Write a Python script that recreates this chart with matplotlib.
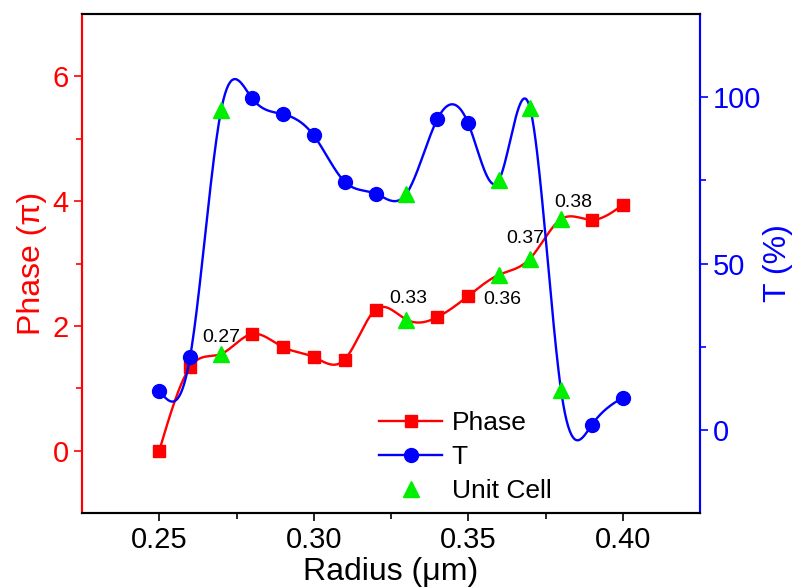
import matplotlib
matplotlib.use("Agg")
import matplotlib.pyplot as plt
import numpy as np
from matplotlib.ticker import MultipleLocator

plt.rcParams['font.family'] = ['Liberation Sans', 'DejaVu Sans']

# Data
radius = [0.25, 0.26, 0.27, 0.28, 0.29, 0.30, 0.31, 0.32,
          0.33, 0.34, 0.35, 0.36, 0.37, 0.38, 0.39, 0.40]
phase = [0.00, 1.34, 1.55, 1.87, 1.66, 1.50, 1.46, 2.26,
         2.10, 2.14, 2.48, 2.82, 3.08, 3.71, 3.70, 3.94]
trans = [11.8, 22.0, 96.0, 99.7, 94.9, 88.5, 74.6, 71.0,
         71.0, 93.4, 92.1, 75.2, 96.7, 12.1, 1.5, 9.7]
unit_cell = [0.27, 0.33, 0.36, 0.37, 0.38]
unit_labels = ["0.27", "0.33", "0.36", "0.37", "0.38"]
label_offsets = [(0, 12), (1.5, 15), (2, -18), (-3.5, 14.5), (8.5, 12)]


def natural_spline(x, y, n=40):
    # natural cubic spline, used only to draw the smooth connecting line
    x = np.asarray(x, float)
    y = np.asarray(y, float)
    k = len(x)
    h = np.diff(x)
    A = np.zeros((k, k))
    b = np.zeros(k)
    A[0, 0] = A[-1, -1] = 1
    for i in range(1, k - 1):
        A[i, i - 1] = h[i - 1]
        A[i, i] = 2 * (h[i - 1] + h[i])
        A[i, i + 1] = h[i]
        b[i] = 6 * ((y[i + 1] - y[i]) / h[i] - (y[i] - y[i - 1]) / h[i - 1])
    M = np.linalg.solve(A, b)
    xs, ys = [], []
    for i in range(k - 1):
        t = np.linspace(x[i], x[i + 1], n)
        a = x[i + 1] - t
        c = t - x[i]
        s = (M[i] * a ** 3 + M[i + 1] * c ** 3) / (6 * h[i]) \
            + (y[i] / h[i] - M[i] * h[i] / 6) * a \
            + (y[i + 1] / h[i] - M[i + 1] * h[i] / 6) * c
        xs.append(t)
        ys.append(s)
    return np.concatenate(xs), np.concatenate(ys)


is_cell = [r in unit_cell for r in radius]
r_plain = [r for r, c in zip(radius, is_cell) if not c]
p_plain = [p for p, c in zip(phase, is_cell) if not c]
t_plain = [t for t, c in zip(trans, is_cell) if not c]
p_cell = [p for p, c in zip(phase, is_cell) if c]
t_cell = [t for t, c in zip(trans, is_cell) if c]

fig = plt.figure(figsize=(7.97, 5.87), dpi=100)
ax = fig.add_axes([0.1029, 0.1261, 0.7754, 0.85])
ax2 = ax.twinx()

red = '#FF0000'
blue = '#0000FF'
green = '#00EE00'

sx, sy = natural_spline(radius, phase)
ax.plot(sx, sy, color=red, lw=1.7, zorder=2)
ax.plot(r_plain, p_plain, 's', color=red, ms=9, zorder=3)
ax.plot(unit_cell, p_cell, '^', color=green, ms=11, zorder=4)

tx, ty = natural_spline(radius, trans)
ax2.plot(tx, ty, color=blue, lw=1.7, zorder=2)
ax2.plot(r_plain, t_plain, 'o', color=blue, ms=10, zorder=3)
ax2.plot(unit_cell, t_cell, '^', color=green, ms=11, zorder=4)

for xc, yc, lab, off in zip(unit_cell, p_cell, unit_labels, label_offsets):
    ax.annotate(lab, (xc, yc), xytext=off, textcoords='offset points',
                ha='center', va='center', fontsize=14, color='black')

ax.set_xlim(0.225, 0.425)
ax.set_ylim(-1, 7)
ax2.set_ylim(-25, 125)

ax.set_xticks([0.25, 0.30, 0.35, 0.40])
ax.set_xticklabels(["0.25", "0.30", "0.35", "0.40"])
ax.set_xticks([0.275, 0.325, 0.375], minor=True)
ax.set_yticks([0, 2, 4, 6])
ax.set_yticks([1, 3, 5], minor=True)
ax2.set_yticks([0, 50, 100])
ax2.set_yticks([25, 75], minor=True)

ax.tick_params(axis='x', which='both', direction='out', labelsize=21,
               colors='black', width=1.2)
ax.tick_params(axis='x', which='major', length=6)
ax.tick_params(axis='x', which='minor', length=4)
ax.tick_params(axis='y', which='both', direction='out', labelsize=21,
               colors=red, width=1.2)
ax.tick_params(axis='y', which='major', length=6)
ax.tick_params(axis='y', which='minor', length=4)
ax2.tick_params(axis='y', which='both', direction='out', labelsize=21,
                colors=blue, width=1.2)
ax2.tick_params(axis='y', which='major', length=6)
ax2.tick_params(axis='y', which='minor', length=4)

for a in (ax, ax2):
    a.spines['left'].set_color(red)
    a.spines['right'].set_color(blue)
    a.spines['top'].set_color('black')
    a.spines['bottom'].set_color('black')
    for s in a.spines.values():
        s.set_linewidth(1.5)

ax.set_xlabel("Radius (\u03bcm)", fontsize=23, labelpad=2)
ax.set_ylabel("Phase (\u03c0)", fontsize=23, color=red, labelpad=4)
ax2.set_ylabel("T (%)", fontsize=23, color=blue, labelpad=1)

handles = [
    plt.Line2D([], [], color=red, lw=1.7, marker='s', ms=9),
    plt.Line2D([], [], color=blue, lw=1.7, marker='o', ms=10),
    plt.Line2D([], [], color=green, lw=0, marker='^', ms=11),
]
ax2.legend(handles, ["Phase", "T", "Unit Cell"], loc='upper left',
           bbox_to_anchor=(379 / 797, 1 - 411 / 587),
           bbox_transform=fig.transFigure, frameon=False, fontsize=19,
           handlelength=2.4, handletextpad=0.35, labelspacing=0.38,
           borderpad=0, borderaxespad=0)

fig.savefig("out.png", dpi=100)
